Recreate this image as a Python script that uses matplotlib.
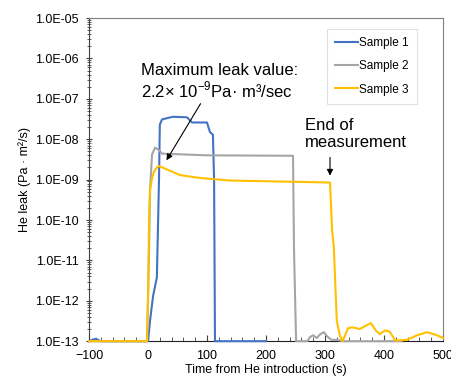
import matplotlib
matplotlib.use('Agg')
import matplotlib.pyplot as plt
import matplotlib.ticker as mticker

plt.rcParams['font.family'] = ['Liberation Sans', 'DejaVu Sans']
plt.rcParams['mathtext.fontset'] = 'custom'
plt.rcParams['mathtext.rm'] = 'Liberation Sans'

# Sample 1 (blue)
t1 = [-100, -93, -88, -81, 0, 3.4, 8.5, 15, 18.6, 20, 23.7, 42, 66, 74.6, 100, 105, 110, 112, 113.5, 200]
y1 = [1e-13, 1.1e-13, 1.15e-13, 1e-13, 1e-13, 3.2e-13, 1.3e-12, 3.8e-12, 1e-9, 2.3e-8, 3.1e-8, 3.6e-8, 3.5e-8,
      2.6e-8, 2.6e-8, 1.5e-8, 1.3e-8, 1e-9, 1e-13, 1e-13]

# Sample 2 (gray)
t2 = [-100, -1.7, 1.7, 3.4, 6.8, 12, 17, 24, 100, 244, 245.8, 247.5, 251, 270, 274.6, 280, 286, 291.5, 298, 304,
      311, 320, 330, 430]
y2 = [1e-13, 1e-13, 1.8e-11, 5.6e-10, 4.2e-9, 6.2e-9, 5.6e-9, 4.4e-9, 4.0e-9, 3.9e-9, 3.9e-9, 1.8e-11, 1e-13,
      1e-13, 1.26e-13, 1.4e-13, 1.2e-13, 1.47e-13, 1.67e-13, 1.3e-13, 1.08e-13, 1.08e-13, 1e-13, 1e-13]

# Sample 3 (yellow)
t3 = [-100, -1.7, 0, 1.7, 3.4, 6.3, 10.2, 17.5, 31.7, 54, 88, 139, 220, 308.5, 312, 315, 320, 325, 330,
      339, 347, 359, 370, 378, 386, 393, 402, 410, 419, 439, 456, 473, 486, 498, 500]
y3 = [1e-13, 1e-13, 1e-12, 1e-10, 5.6e-10, 1e-9, 1.6e-9, 2.2e-9, 1.8e-9, 1.3e-9, 1.1e-9, 9.5e-10, 9e-10,
      8.5e-10, 5.6e-11, 2.1e-11, 3.2e-13, 1.4e-13, 1e-13, 2.1e-13, 2.2e-13, 2.0e-13, 2.46e-13, 2.8e-13,
      1.85e-13, 1.5e-13, 1.85e-13, 1.7e-13, 1.04e-13, 1.08e-13, 1.4e-13, 1.67e-13, 1.47e-13, 1.25e-13, 1.2e-13]

x_ticks = [-100, 0, 100, 200, 300, 400, 500]
y_exps = list(range(-13, -4))
y_ticks = [10.0**e for e in y_exps]

fig = plt.figure(figsize=(4.52, 3.77), dpi=100)
ax = fig.add_axes([0.197, 0.095, 0.783, 0.857])

ax.plot(t1, y1, color='#4472C4', lw=1.5, label='Sample 1', clip_on=False, zorder=3)
ax.plot(t2, y2, color='#A5A5A5', lw=1.5, label='Sample 2', clip_on=False, zorder=3)
ax.plot(t3, y3, color='#FFC000', lw=1.5, label='Sample 3', clip_on=False, zorder=3)

ax.set_yscale('log')
ax.set_ylim(1e-13, 1e-5)
ax.set_xlim(-100, 500)
ax.xaxis.set_major_locator(mticker.FixedLocator(x_ticks))
ax.xaxis.set_minor_locator(mticker.FixedLocator(range(-100, 501, 20)))
ax.yaxis.set_major_locator(mticker.FixedLocator(y_ticks))
ax.yaxis.set_minor_locator(mticker.FixedLocator([k * 10.0**e for e in y_exps[:-1] for k in range(2, 10)]))
ax.yaxis.set_minor_formatter(mticker.NullFormatter())
ax.yaxis.set_major_formatter(mticker.FuncFormatter(lambda v, p: f"{v:.1E}"))

ax.tick_params(axis='x', which='major', direction='in', length=4, labelsize=9, pad=6, color='#404040')
ax.tick_params(axis='x', which='minor', direction='in', length=3, color='#404040')
ax.tick_params(axis='y', which='major', direction='inout', length=5, labelsize=9, pad=5, color='#404040')
ax.tick_params(axis='y', which='minor', direction='inout', length=3, color='#404040')

for s in ['top', 'right']:
    ax.spines[s].set_color('#808080')
ax.spines['left'].set_color('#404040')
ax.spines['bottom'].set_color('#202020')

ax.set_xlabel('Time from He introduction (s)', fontsize=9, labelpad=2)
ax.set_ylabel('He leak (Pa · m²/s)', fontsize=9, labelpad=3)

leg = ax.legend(loc='upper right', bbox_to_anchor=(0.944, 0.985), fontsize=8.5, frameon=True, fancybox=False,
                edgecolor='#D9D9D9', labelspacing=0.95, handlelength=1.9, handletextpad=0.15,
                borderpad=0.7)
leg.get_frame().set_linewidth(0.8)

ax.text(-12, 10**-6.1, 'Maximum leak value:\n2.2× 10$^{-9}$Pa· m³/sec', fontsize=12,
        va='top', ha='left', linespacing=1.15)
ax.annotate('', xy=(28.8, 10**-8.58), xytext=(91.5, 10**-7.06),
            arrowprops=dict(arrowstyle='-|>', color='black', lw=0.8, mutation_scale=9))

ax.text(266, 10**-7.47, 'End of\nmeasurement', fontsize=12, va='top', ha='left', linespacing=1.15)
ax.annotate('', xy=(308.5, 10**-8.97), xytext=(308.5, 10**-8.38),
            arrowprops=dict(arrowstyle='-|>', color='black', lw=0.8, mutation_scale=9))

fig.savefig('out.png', dpi=100)
